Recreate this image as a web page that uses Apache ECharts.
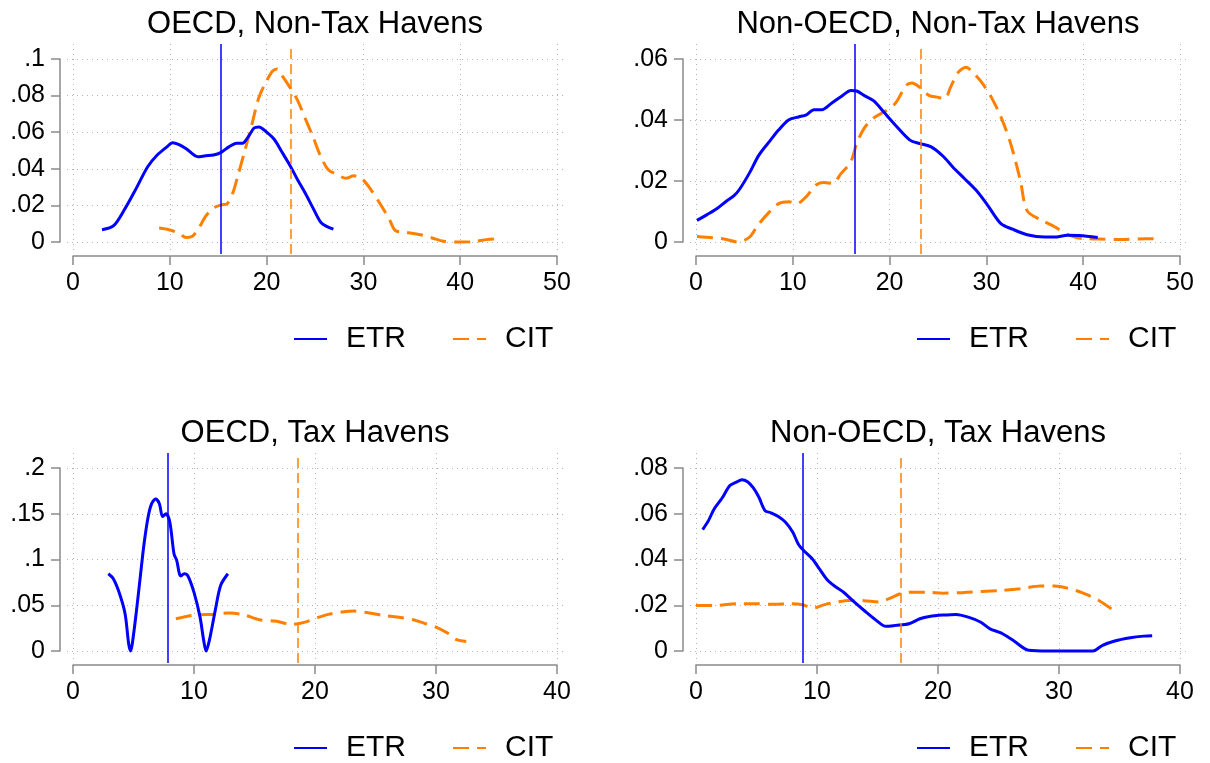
<!DOCTYPE html>
<html><head><meta charset="utf-8">
<script src="https://cdn.jsdelivr.net/npm/echarts@6/dist/echarts.min.js"></script>
<style>html,body{margin:0;padding:0;background:#fff}#c{width:1210px;height:763px}</style>
</head><body><div id="c"></div>
<script>
// ---------- data ----------
const titles = ['OECD, Non-Tax Havens', 'Non-OECD, Non-Tax Havens', 'OECD, Tax Havens', 'Non-OECD, Tax Havens'];
const xMax = [50, 50, 40, 40];
const xStep = 10;
const yMax = [0.1, 0.06, 0.2, 0.08];
const yStep = [0.02, 0.02, 0.05, 0.02];
const etrMean = [15.3, 16.4, 7.8, 8.8];
const citMean = [22.5, 23.2, 18.6, 16.9];

const p1Etr = [[3.0,0.0067],[4.2,0.0089],[5.4,0.0185],[6.6,0.030],[7.7,0.041],[8.7,0.0475],[9.7,0.052],[10.3,0.0543],[10.9,0.0534],[11.7,0.051],[12.9,0.0466],[13.7,0.0471],[14.5,0.0475],[15.3,0.049],[16.1,0.052],[16.9,0.054],[17.5,0.054],[18.1,0.0574],[18.7,0.0623],[19.2,0.0629],[20.0,0.060],[20.8,0.056],[21.6,0.049],[22.4,0.042],[23.2,0.034],[24.0,0.0266],[24.8,0.0185],[25.6,0.0107],[26.2,0.0085],[26.9,0.007]];
const p1Cit = [[8.9,0.0076],[9.9,0.0067],[10.9,0.0049],[11.7,0.0025],[12.3,0.003],[12.9,0.0067],[13.7,0.014],[14.5,0.0185],[15.3,0.0203],[15.9,0.0208],[16.5,0.0266],[17.1,0.0375],[17.7,0.049],[18.5,0.0647],[19.2,0.079],[20.0,0.088],[20.6,0.0933],[21.1,0.0946],[21.6,0.091],[22.4,0.0846],[23.2,0.0774],[24.0,0.0674],[24.8,0.0574],[25.6,0.0466],[26.4,0.0393],[27.2,0.0371],[28.2,0.0348],[29.0,0.0362],[29.8,0.0348],[30.8,0.0284],[31.9,0.0194],[32.7,0.0121],[33.3,0.0063],[34.3,0.0054],[35.9,0.004],[37.1,0.0022],[38.3,0.0004],[39.9,0],[41.5,0.0002],[42.7,0.0013],[44.2,0.0018]];

const p2Etr = [[0.1,0.0071],[1.1,0.0089],[2.1,0.0108],[3.1,0.0133],[3.9,0.0151],[4.5,0.0173],[5.5,0.0225],[6.5,0.0285],[7.7,0.0334],[8.5,0.0366],[9.6,0.0401],[10.6,0.041],[11.4,0.0417],[12.2,0.0434],[13.0,0.0434],[14.0,0.0455],[15.0,0.0477],[16.0,0.0497],[16.6,0.0495],[17.4,0.048],[18.4,0.0462],[19.4,0.0426],[20.6,0.0383],[22.1,0.0334],[23.1,0.0323],[24.3,0.0312],[25.5,0.0282],[26.5,0.0247],[27.7,0.0209],[28.9,0.0171],[30.1,0.0122],[31.5,0.006],[32.7,0.0042],[34.2,0.0024],[36.0,0.0016],[37.0,0.0016],[38.4,0.0022],[39.6,0.0021],[41.5,0.0015]];
const p2Cit = [[0.1,0.0018],[1.7,0.0014],[2.9,0.001],[4.3,0],[5.5,0.0015],[6.3,0.0051],[7.3,0.0089],[8.5,0.0125],[9.6,0.0132],[10.4,0.0125],[11.4,0.0149],[12.4,0.0187],[13.2,0.0195],[14.1,0.0192],[15.0,0.0225],[16.0,0.0263],[16.6,0.0323],[17.4,0.0374],[18.4,0.0408],[19.4,0.0426],[20.6,0.0455],[21.7,0.0513],[22.3,0.0521],[23.2,0.0505],[24.1,0.048],[24.9,0.0475],[25.7,0.047],[26.3,0.0508],[27.1,0.0557],[27.9,0.0573],[28.5,0.056],[29.5,0.0524],[30.5,0.0475],[31.5,0.041],[32.5,0.0323],[33.5,0.0203],[34.2,0.0103],[35.6,0.0073],[37.0,0.0051],[38.4,0.0024],[40.0,0.0011],[41.6,0.001],[44.0,0.0008],[46.5,0.0011],[47.9,0.001]];

const p3Etr = [[2.92,0.0844],[3.33,0.079],[3.8,0.0644],[4.3,0.041],[4.6,0.008],[4.76,0],[4.9,0.008],[5.2,0.039],[5.56,0.081],[5.87,0.117],[6.2,0.146],[6.5,0.161],[6.83,0.166],[7.14,0.161],[7.4,0.147],[7.68,0.15],[8.0,0.141],[8.35,0.106],[8.57,0.099],[8.9,0.082],[9.2,0.0844],[9.5,0.082],[10.0,0.064],[10.5,0.037],[10.8,0.0116],[11.0,0],[11.27,0.0116],[11.75,0.044],[12.2,0.0716],[12.8,0.0844]];
const p3Cit = [[8.5,0.0353],[9.4,0.0378],[10.3,0.0396],[11.6,0.040],[12.9,0.0415],[14.1,0.0396],[15.4,0.0342],[16.7,0.0327],[18.1,0.0291],[18.6,0.0298],[19.4,0.0324],[20.2,0.0364],[21.1,0.040],[22.2,0.0425],[23.3,0.0436],[24.4,0.0418],[25.6,0.0389],[26.8,0.0371],[28.1,0.0342],[29.0,0.0305],[30.0,0.0262],[30.95,0.0196],[31.7,0.0124],[32.5,0.0105]];

const p4Etr = [[0.55,0.0531],[1.03,0.057],[1.5,0.0621],[2.16,0.0669],[2.8,0.0723],[3.3,0.0737],[3.8,0.0749],[4.26,0.074],[4.74,0.0713],[5.2,0.0672],[5.7,0.0614],[6.2,0.0604],[6.8,0.0588],[7.4,0.0563],[8.0,0.0519],[8.45,0.0468],[8.9,0.0439],[9.6,0.0403],[10.2,0.0359],[10.9,0.0308],[11.5,0.0282],[12.2,0.0257],[13.0,0.0218],[13.9,0.0177],[14.9,0.0134],[15.7,0.0108],[16.5,0.0112],[17.6,0.0119],[18.5,0.0141],[19.3,0.0151],[20.4,0.0157],[21.5,0.016],[22.5,0.0148],[23.5,0.0127],[24.3,0.0097],[25.2,0.0079],[26.2,0.0047],[27.5,0.0003],[29.1,0],[30.7,0],[32.8,0],[33.6,0.0025],[34.6,0.0044],[35.9,0.0058],[37.0,0.0065],[37.7,0.0067]];
const p4Cit = [[0.0,0.0199],[1.7,0.0199],[3.3,0.0207],[4.9,0.0207],[6.5,0.0204],[7.8,0.0207],[8.8,0.0202],[9.7,0.0188],[10.7,0.0204],[11.7,0.0214],[12.6,0.0221],[13.9,0.0220],[15.1,0.0214],[15.9,0.0228],[16.9,0.025],[17.8,0.0257],[19.1,0.0257],[20.4,0.0253],[22.0,0.0255],[23.6,0.026],[25.2,0.0265],[26.8,0.0272],[28.5,0.0284],[29.6,0.0284],[30.7,0.0275],[32.0,0.0253],[33.3,0.0221],[34.7,0.017]];

const etrData = [p1Etr, p2Etr, p3Etr, p4Etr];
const citData = [p1Cit, p2Cit, p3Cit, p4Cit];

// ---------- layout / style ----------
const FONT = '"Liberation Sans", Arial, Helvetica, sans-serif';
const BLUE = '#0000ff', ORANGE = '#ff8000', AXIS = '#8a8a8a', GRIDC = '#b4b4b4';
const DX = [0, 623, 0, 623], DY = [0, 0, 409, 409];
const A = {left: 73, top: 59, width: 484, height: 183};
const PADL = 6, PADR = 10, PADT = 15, PADB = 12;

function ticks(max, step) { const t = []; for (let v = 0; v <= max + 1e-9; v += step) t.push(+v.toFixed(4)); return t; }
function yFmt(v) { if (Math.abs(v) < 1e-9) return '0'; return String(+v.toFixed(3)).replace(/^0\./, '.'); }

const grid = [], xAxis = [], yAxis = [], series = [], title = [], legend = [];
for (let i = 0; i < 4; i++) {
  const dx = DX[i], dy = DY[i], X = xMax[i], Y = yMax[i];
  grid.push({left: A.left + dx, top: A.top + dy, width: A.width, height: A.height});
  grid.push({left: A.left - PADL + dx, top: A.top - PADT + dy, width: A.width + PADL + PADR, height: A.height + PADT + PADB});
  const axLine = {show: true, onZero: false, lineStyle: {color: AXIS, width: 1.5}};
  const axTick = {show: true, inside: false, length: 9, lineStyle: {color: AXIS, width: 1.5}};
  xAxis.push({gridIndex: 2*i, type: 'value', min: 0, max: X, interval: xStep, offset: 14,
    axisLine: axLine, axisTick: axTick,
    axisLabel: {fontSize: 25, color: '#000', margin: 15, fontFamily: FONT},
    splitLine: {show: false}});
  yAxis.push({gridIndex: 2*i, type: 'value', min: 0, max: Y, interval: yStep[i], offset: 13,
    axisLine: axLine, axisTick: axTick,
    axisLabel: {fontSize: 25, color: '#000', margin: 15, fontFamily: FONT, formatter: yFmt},
    splitLine: {show: false}});
  const xt = ticks(X, xStep), yt = ticks(Y, yStep[i]);
  const dotted = {show: true, lineStyle: {color: GRIDC, width: 1, type: [1, 4]}};
  xAxis.push({gridIndex: 2*i+1, type: 'value',
    min: -PADL * X / A.width, max: X + PADR * X / A.width,
    axisLine: {show: false}, axisTick: {show: false, customValues: xt},
    axisLabel: {show: false, customValues: xt}, splitLine: dotted});
  yAxis.push({gridIndex: 2*i+1, type: 'value',
    min: -PADB * Y / A.height, max: Y + PADT * Y / A.height,
    axisLine: {show: false}, axisTick: {show: false, customValues: yt},
    axisLabel: {show: false, customValues: yt}, splitLine: dotted});
  series.push({type: 'line', name: 'ETR', xAxisIndex: 2*i+1, yAxisIndex: 2*i+1, data: etrData[i],
    symbol: 'none', smooth: 0.3, z: 4,
    lineStyle: {color: BLUE, width: 3}, itemStyle: {color: BLUE},
    markLine: {silent: true, symbol: ['none', 'none'], label: {show: false},
      lineStyle: {color: BLUE, width: 1.5, type: 'solid'}, data: [{xAxis: etrMean[i]}]}});
  series.push({type: 'line', name: 'CIT', xAxisIndex: 2*i+1, yAxisIndex: 2*i+1, data: citData[i],
    symbol: 'none', smooth: 0.3, z: 3,
    lineStyle: {color: ORANGE, width: 3, type: [16, 8]}, itemStyle: {color: ORANGE},
    markLine: {silent: true, symbol: ['none', 'none'], label: {show: false},
      lineStyle: {color: ORANGE, width: 1.5, type: [10, 5]}, data: [{xAxis: citMean[i]}]}});
  title.push({text: titles[i], left: 315 + dx, top: 9 + dy, textAlign: 'center', padding: 0,
    textStyle: {fontSize: 31, fontWeight: 'normal', color: '#000', fontFamily: FONT}});
  legend.push({data: ['ETR', 'CIT'], left: 293 + dx, top: 324 + dy, orient: 'horizontal', padding: 0,
    itemWidth: 33, itemHeight: 14, itemGap: 46, selectedMode: false,
    itemStyle: {opacity: 0},
    textStyle: {fontSize: 30, color: '#000', fontFamily: FONT, padding: [0, 0, 0, 14]}});
}

const chart = echarts.init(document.getElementById('c'), null, {renderer: 'canvas'});
chart.setOption({animation: false, backgroundColor: '#fff', title, legend, grid, xAxis, yAxis, series});
</script></body></html>
